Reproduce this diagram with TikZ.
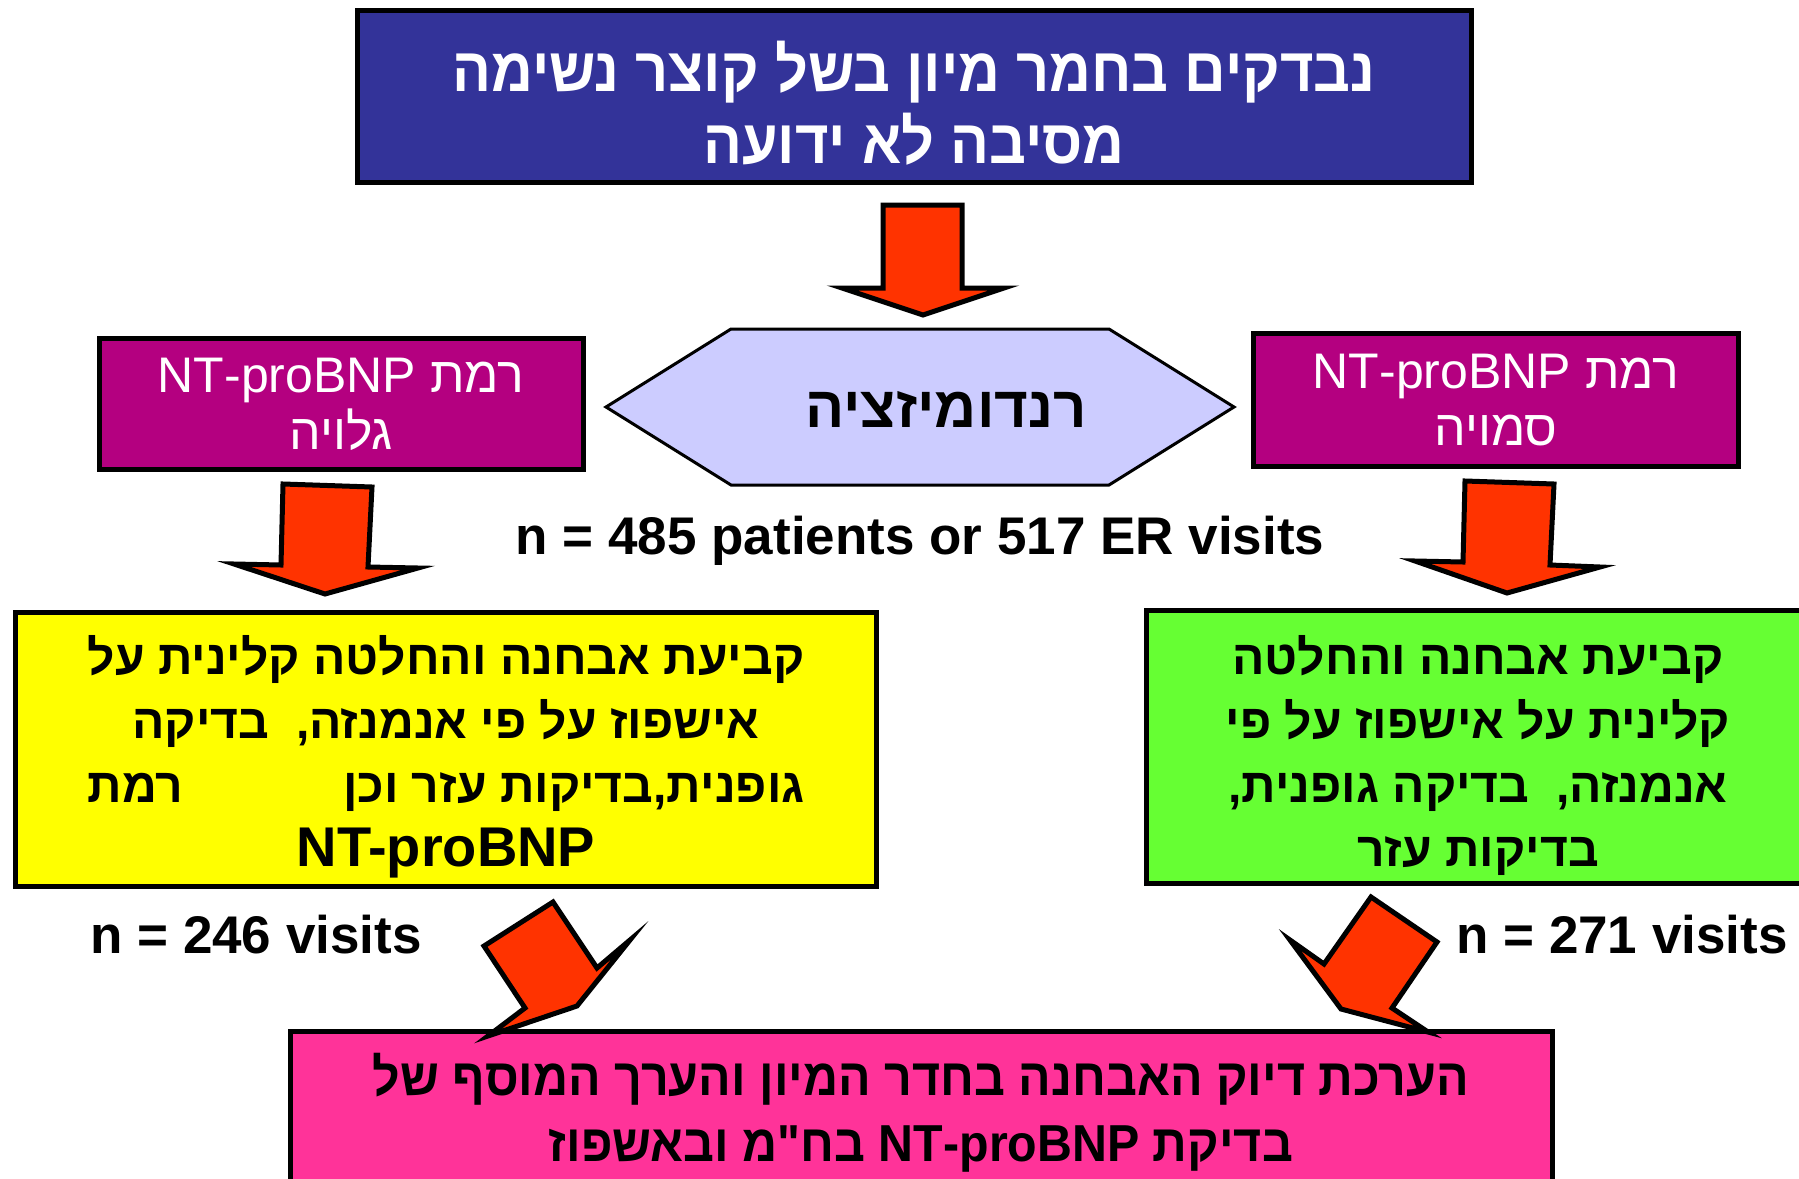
\documentclass[tikz,border=0pt]{standalone}
\usepackage{fontspec}
\setmainfont{Liberation Sans}
\newfontfamily\hebfont[Script=Hebrew]{Liberation Sans}
\newfontfamily\hebnarrow[Script=Hebrew,FakeStretch=0.93]{Liberation Sans}
\TeXXeTstate=1
\newcommand{\heb}[1]{{\hebfont\beginR #1\endR}}
\newcommand{\hebn}[1]{{\hebnarrow\beginR #1\endR}}
\newcommand{\lat}[1]{\beginL #1\endL{}}

\definecolor{titleblue}{RGB}{51,51,153}
\definecolor{hexlilac}{RGB}{204,204,255}
\definecolor{bnppurple}{RGB}{180,0,128}
\definecolor{boxyellow}{RGB}{255,255,0}
\definecolor{boxgreen}{RGB}{102,255,51}
\definecolor{boxpink}{RGB}{255,51,153}
\definecolor{arrowred}{RGB}{255,51,0}

\tikzset{
  boxstyle/.style={draw=black, line width=5pt, inner sep=0pt, align=center},
  boxtext/.style={inner sep=0pt, align=center},
  blockarrow/.style={fill=arrowred, draw=black, line width=5pt, line join=miter, miter limit=25},
  countlabel/.style={font=\bfseries\fontsize{53}{60}\selectfont, inner sep=0pt}
}

\begin{document}
\begin{tikzpicture}[x=1pt, y=-1pt]
    \useasboundingbox (0,0) rectangle (1799,1178);
    \clip (0,0) rectangle (1799,1178);

    % Title box
    \node[boxstyle, fill=titleblue, minimum width=1114, minimum height=172] (title) at (914,96) {};
    \node[boxtext, text=white, font=\bfseries\fontsize{62}{72}\selectfont] (titletext) at (914,103)
        {\hebn{נבדקים בחמר מיון בשל קוצר נשימה}\\ \hebn{מסיבה לא ידועה}};

    % Randomisation hexagon
    \draw[fill=hexlilac, line width=3pt, line join=miter]
        (606,407) -- (731,329) -- (1109,329) -- (1234,407) -- (1109,485) -- (731,485) -- cycle;
    \node[font=\bfseries\fontsize{58}{60}\selectfont, inner sep=0pt] (rand) at (946,409) {\heb{רנדומיזציה}};
    \node[countlabel, anchor=base] (ntotal) at (920,554) {n = 485 patients or 517 ER visits};

    % NT-proBNP level boxes
    \node[boxstyle, fill=bnppurple, text=white, minimum width=484, minimum height=131,
          font=\fontsize{50}{57}\selectfont] (shown) at (341,404)
        {\heb{רמת \lat{NT-proBNP}}\\ \heb{גלויה}};
    \node[boxstyle, fill=bnppurple, text=white, minimum width=485, minimum height=133,
          font=\fontsize{50}{57}\selectfont] (hidden) at (1496,400)
        {\heb{רמת \lat{NT-proBNP}}\\ \heb{סמויה}};

    % Clinical decision boxes
    \node[boxstyle, fill=boxyellow, minimum width=861, minimum height=274] (withbnp) at (446,749) {};
    \node[boxtext, font=\bfseries\fontsize{48}{64}\selectfont] (withtext) at (446,757)
        {\heb{קביעת אבחנה והחלטה קלינית על}\\
         \heb{אישפוז על פי אנמנזה,\ \ בדיקה}\\
         \heb{גופנית,בדיקות עזר וכן\hspace{160pt}רמת}\\
         {\fontsize{56}{64}\selectfont NT-proBNP}};
    \node[boxstyle, fill=boxgreen, minimum width=663, minimum height=273] (nobnp) at (1478,747) {};
    \node[boxtext, font=\bfseries\fontsize{48}{64}\selectfont] (notext) at (1478,755)
        {\heb{קביעת אבחנה והחלטה}\\
         \heb{קלינית על אישפוז על פי}\\
         \heb{אנמנזה,\ \ בדיקה גופנית,}\\
         \heb{בדיקות עזר}};
    \node[countlabel] (nleft) at (256,935) {n = 246 visits};
    \node[countlabel] (nright) at (1622,935) {n = 271 visits};

    % Outcome box
    \node[boxstyle, fill=boxpink, minimum width=1262, minimum height=160] (assess) at (921,1111) {};
    \node[boxtext, font=\bfseries\fontsize{52}{66}\selectfont] (assesstext) at (921,1113)
        {\hebn{הערכת דיוק האבחנה בחדר המיון והערך המוסף של}\\
         \hebn{בדיקת \lat{NT-proBNP} בח"מ ובאשפוז}};

    % Block arrows
    \draw[blockarrow] (883,205) -- (962,205) -- (962,288) -- (1004,288) -- (923,315)
        -- (842,288) -- (883,288) -- cycle;
    \draw[blockarrow] (283,484) -- (372,487) -- (368,567) -- (418,568) -- (325,594)
        -- (234,564) -- (281,565) -- cycle;
    \draw[blockarrow] (1465,481) -- (1554,484) -- (1550,565) -- (1600,567) -- (1507,593)
        -- (1415,561) -- (1463,562) -- cycle;
    \draw[blockarrow] (484,946) -- (553,902) -- (597,968) -- (630,940) -- (577,1006)
        -- (488,1036) -- (525,1008) -- cycle;
    \draw[blockarrow] (1371,897) -- (1437,942) -- (1392,1008) -- (1428,1032) -- (1341,1009)
        -- (1290,940) -- (1324,964) -- cycle;
\end{tikzpicture}
\end{document}
